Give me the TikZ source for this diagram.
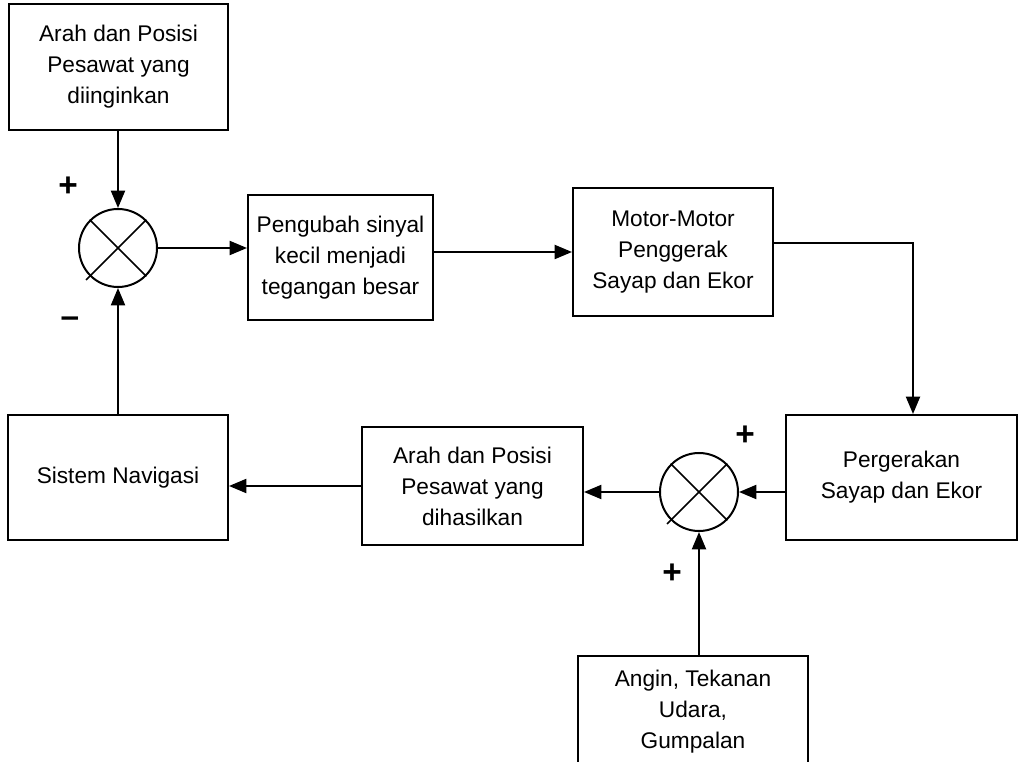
\documentclass[tikz,border=0pt]{standalone}
\usepackage{fontspec}
\setmainfont{Liberation Sans}
\usetikzlibrary{arrows.meta,calc}
\begin{document}
\begin{tikzpicture}[x=0.75pt,y=-0.75pt,
  blk/.style={draw, line width=1.5pt, inner sep=0pt, align=center,
              font=\fontsize{17}{23.25}\selectfont},
  sum/.style={draw, circle, line width=1.5pt, minimum size=58.5pt, inner sep=0pt},
  cross/.style={line width=1.3pt},
  arr/.style={line width=1.5pt, -{Triangle[length=13pt,width=10.5pt]}},
  sgn/.style={inner sep=0pt, font=\fontsize{25}{26}\selectfont\bfseries}
]
\useasboundingbox (0,0) rectangle (1024,762);
\clip (0,0) rectangle (1024,762);

% blocks of the loop
\node[blk, minimum width=164.25pt, minimum height=95pt] (des) at (118.5,67)
  {Arah dan Posisi\\Pesawat yang\\diinginkan};
\node[sum] (s1) at (118,248) {};
\node[blk, minimum width=138.75pt, minimum height=93.75pt] (amp) at (340.5,257.5)
  {Pengubah sinyal\\kecil menjadi\\tegangan besar};
\node[blk, minimum width=150pt, minimum height=96pt] (mot) at (673,252)
  {Motor-Motor\\Penggerak\\Sayap dan Ekor};
\node[blk, minimum width=173.25pt, minimum height=93.75pt] (wing) at (901.5,477.5)
  {Pergerakan\\Sayap dan Ekor};
\node[sum] (s2) at (699,492) {};
\node[blk, minimum width=165.75pt, minimum height=88.5pt] (out) at (472.5,486)
  {Arah dan Posisi\\Pesawat yang\\dihasilkan};
\node[blk, minimum width=165pt, minimum height=93.75pt] (nav) at (118,477.5)
  {Sistem Navigasi};
\node[blk, minimum width=172.5pt, minimum height=84pt, anchor=north] (dist) at (693,655)
  {Angin, Tekanan\\Udara,\\Gumpalan};

% crosses inside the summing points
\foreach \s in {s1,s2}{
  \draw[cross] (\s.135) -- (\s.-45);
  \draw[cross] ($(\s.center)!1.13!(\s.225)$) -- (\s.45);
}

% signs
\node[sgn] (p1) at (68,187) {+};
\node[sgn] (m1) at (70,322) {–};
\node[sgn] (p2) at (745,436) {+};
\node[sgn] (p3) at (672,574) {+};

% connectors
\coordinate (bend) at (913,243);
\draw[arr] (s1 |- des.south) -- (s1.north);
\draw[arr] (s1.east) -- (s1.east -| amp.west);
\draw[arr] (mot.west -| amp.east) -- (mot.west);
\draw[arr] (bend -| mot.east) -- (bend) -- (bend |- wing.north);
\draw[arr] (s2.east -| wing.west) -- (s2.east);
\draw[arr] (s2.west) -- (s2.west -| out.east);
\draw[arr] (out.west) -- (out.west -| nav.east);
\draw[arr] (s1 |- nav.north) -- (s1.south);
\draw[arr] (s2 |- dist.north) -- (s2.south);
\end{tikzpicture}
\end{document}
